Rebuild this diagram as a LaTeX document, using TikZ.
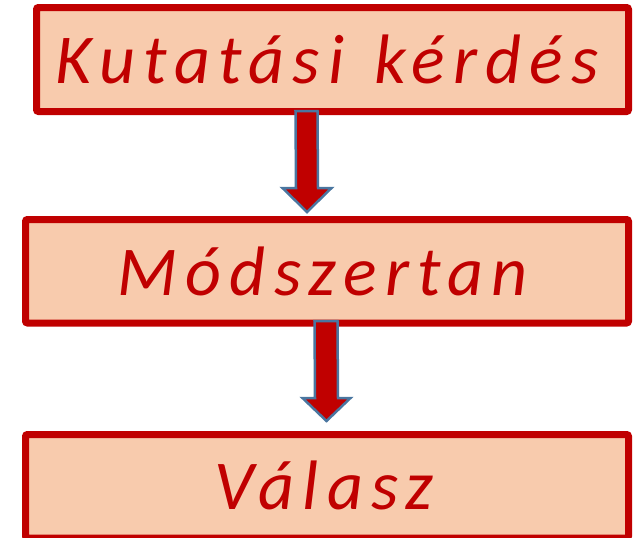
\documentclass[tikz,border=0pt]{standalone}
\usepackage{fontspec}
\setmainfont{Carlito}
\newfontfamily\lblfont[LetterSpace=11.6]{Carlito}
\usetikzlibrary{calc}
\definecolor{boxred}{HTML}{C00000}
\definecolor{boxfill}{HTML}{F8CBAD}
\definecolor{arrowedge}{HTML}{4A76A0}
\tikzset{
  stepbox/.style={draw=boxred, fill=boxfill, line width=7pt, rounded corners=2pt, inner sep=0pt, outer sep=0pt},
  lbl/.style={anchor=base, inner sep=0pt, text=boxred, font=\lblfont\itshape\fontsize{70}{84}\selectfont},
  blockarrow/.style={fill=boxred, draw=arrowedge, line width=2.5pt, line join=miter}
}
\begin{document}
\begin{tikzpicture}[x=1pt,y=-1pt]
\useasboundingbox (0,0) rectangle (641,538);
\node[stepbox, minimum width=592pt, minimum height=104pt] (b1) at (332.5,59.5) {};
\node[stepbox, minimum width=603pt, minimum height=103.5pt] (b2) at (327,271.25) {};
\node[stepbox, minimum width=603pt, minimum height=103.5pt] (b3) at (327,486.25) {};
\node[lbl] (t1) at (327,83) {Kutatási\hspace{6pt} kérdés};
\node[lbl] (t2) at (323,295) {Módszertan};
\node[lbl] (t3) at (324,509) {Válasz};
% arrow 1
\coordinate (a1s) at (306.5,111);
\coordinate (a1e) at (307,212);
\draw[blockarrow] ($(a1s)+(-11,0)$) -- ($(a1s)+(11,0)$) -- ($(a1e)+(11,-24)$) -- ($(a1e)+(24.5,-24)$) -- (a1e) -- ($(a1e)+(-24.5,-24)$) -- ($(a1e)+(-11,-24)$) -- cycle;
% arrow 2
\coordinate (a2s) at (326,321);
\coordinate (a2e) at (326.5,421);
\draw[blockarrow] ($(a2s)+(-11.5,0)$) -- ($(a2s)+(11.5,0)$) -- ($(a2e)+(11.5,-23)$) -- ($(a2e)+(24,-23)$) -- (a2e) -- ($(a2e)+(-24,-23)$) -- ($(a2e)+(-11.5,-23)$) -- cycle;
\end{tikzpicture}
\end{document}
